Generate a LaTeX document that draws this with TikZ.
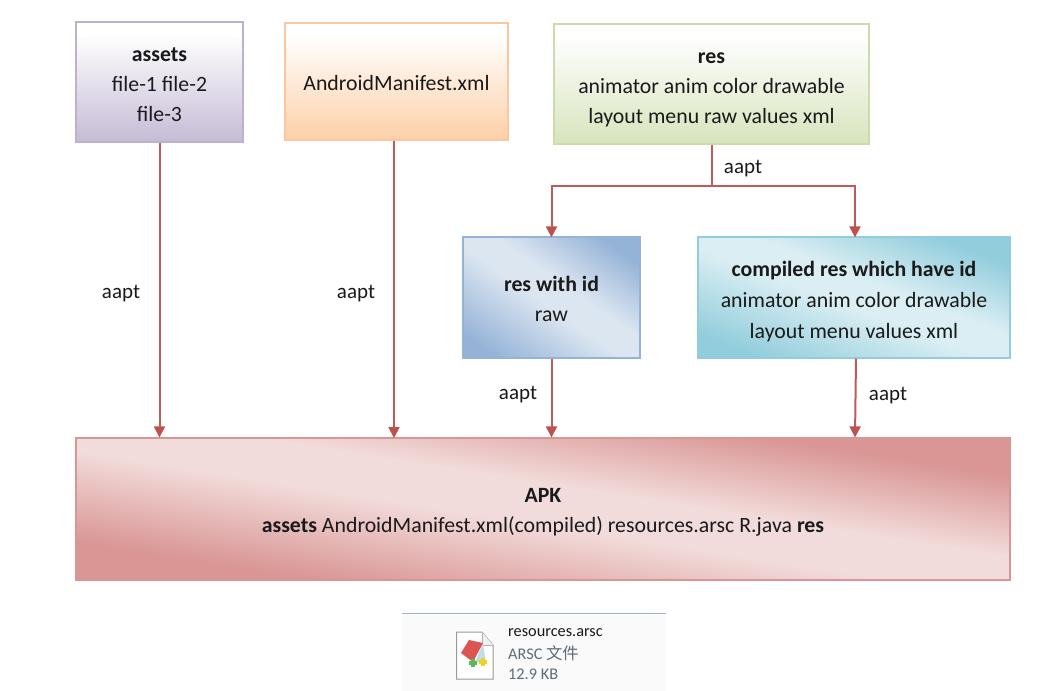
\documentclass[tikz,border=0pt]{standalone}
\usepackage{fontspec}
\setmainfont{Carlito}
\newfontfamily\cjkfont{Noto Sans CJK SC}
\usetikzlibrary{arrows.meta}
\definecolor{arrowred}{HTML}{BE5A58}
\definecolor{tipred}{HTML}{C0504D}
\definecolor{blueD}{HTML}{95B3D7}
\definecolor{blueL}{HTML}{DCE6F1}
\definecolor{aquaD}{HTML}{92CDDC}
\definecolor{aquaL}{HTML}{DAEEF3}
\definecolor{pinkD}{HTML}{D99694}
\definecolor{pinkL}{HTML}{F2DCDB}
\definecolor{lilacF}{HTML}{C5BBD6}
\definecolor{lilacB}{HTML}{BDB1D2}
\definecolor{peachF}{HTML}{FCD0A8}
\definecolor{peachB}{HTML}{FAC79F}
\definecolor{leafF}{HTML}{D7E4BD}
\definecolor{leafB}{HTML}{CBDBA9}
\definecolor{inkblack}{HTML}{1A1A1A}
\definecolor{grayink}{HTML}{5F6B78}
\definecolor{panelline}{HTML}{9DB4CC}
\definecolor{panelfill}{HTML}{FAFAFA}
\definecolor{bookred}{HTML}{DC5552}
\definecolor{bookblue}{HTML}{BFE0EA}
\definecolor{plusgreen}{HTML}{5CB85C}
\definecolor{plusyellow}{HTML}{F0D020}
\pgfdeclareverticalshading{blueshade}{100bp}{color(0bp)=(blueD); color(22bp)=(blueD); color(47bp)=(blueL); color(56bp)=(blueL); color(77bp)=(blueD); color(100bp)=(blueD)}
\pgfdeclareverticalshading{aquashade}{100bp}{color(0bp)=(aquaD); color(24bp)=(aquaD); color(47bp)=(aquaL); color(56bp)=(aquaL); color(75bp)=(aquaD); color(100bp)=(aquaD)}
\pgfdeclareverticalshading{pinkshade}{100bp}{color(0bp)=(pinkD); color(29bp)=(pinkD); color(47bp)=(pinkL); color(55bp)=(pinkL); color(71bp)=(pinkD); color(100bp)=(pinkD)}
\pgfdeclareverticalshading{lilacshade}{100bp}{color(0bp)=(lilacF); color(25bp)=(lilacF); color(70bp)=(white); color(100bp)=(white)}
\pgfdeclareverticalshading{peachshade}{100bp}{color(0bp)=(peachF); color(25bp)=(peachF); color(70bp)=(white); color(100bp)=(white)}
\pgfdeclareverticalshading{leafshade}{100bp}{color(0bp)=(leafF); color(25bp)=(leafF); color(70bp)=(white); color(100bp)=(white)}
\newcommand{\gap}[1]{\rule{0pt}{#1pt}}
\tikzset{
  box/.style={draw,shade,shading angle=0,line width=1.2pt,inner sep=0pt,align=center,
    font=\fontsize{21.8}{30}\selectfont,text=inkblack},
  lbl/.style={font=\fontsize{21}{22}\selectfont,text=inkblack,inner sep=0pt},
  flow/.style={draw=arrowred,line width=2pt,-{Triangle[length=11pt,width=11pt,color=tipred]}},
  flowplain/.style={draw=arrowred,line width=2pt},
  small/.style={anchor=west,inner sep=0pt,font=\fontsize{16.3}{18}\selectfont},
}
\begin{document}
\begin{tikzpicture}[x=1pt,y=-1pt]
\useasboundingbox (0,0) rectangle (1061,691);
\fill[white] (0,0) rectangle (1061,691);

% boxes
\node[box,draw=lilacB,shading=lilacshade,minimum width=167pt,minimum height=120pt] (assets) at (159.5,82) {\gap{20}\textbf{assets}\\file-1 file-2\\file-3};
\node[box,draw=peachB,shading=peachshade,minimum width=223pt,minimum height=117pt] (manifest) at (396.5,81.5) {\gap{18}AndroidManifest.xml};
\node[box,draw=leafB,shading=leafshade,minimum width=315pt,minimum height=120pt] (res) at (711.5,84) {\gap{23}\textbf{res}\\animator anim color drawable\\layout menu raw values xml};
\node[box,draw=blueD,shading=blueshade,shading angle=-35,minimum width=177pt,minimum height=121pt] (resid) at (551.5,297.5) {\gap{18}\textbf{res with id}\\raw};
\node[box,draw=aquaD,shading=aquashade,shading angle=-21,minimum width=312pt,minimum height=121pt,font=\fontsize{21.8}{31}\selectfont] (compiled) at (854,297.5) {\gap{24}\textbf{compiled res which have id}\\animator anim color drawable\\layout menu values xml};
\node[box,draw=pinkD,shading=pinkshade,shading angle=-9,minimum width=934pt,minimum height=142pt] (apk) at (543,509) {\gap{20}\textbf{APK}\\\textbf{assets} AndroidManifest.xml(compiled) resources.arsc R.java \textbf{res}};

% connectors
\coordinate (branch) at (res.south |- 0,186);
\draw[flowplain] (res.south) -- (branch);
\draw[flow] (branch) -| ([yshift=-1pt]resid.north);
\draw[flow] (branch) -| ([xshift=1pt,yshift=-1pt]compiled.north);
\draw[flow] (assets.south) -- (assets.south |- apk.north);
\draw[flow] (manifest.south -| 394,0) -- (394,438);
\draw[flow] (resid.south) -- (resid.south |- apk.north);
\draw[flow] ([xshift=2pt]compiled.south) -- ([xshift=1pt]compiled.south |- apk.north);

% labels
\node[lbl] (l1) at (121,293.5) {aapt};
\node[lbl] (l2) at (356,293.5) {aapt};
\node[lbl] (l3) at (743,168.5) {aapt};
\node[lbl] (l4) at (518,394.5) {aapt};
\node[lbl] (l5) at (888,395.5) {aapt};

% file panel
\fill[panelfill] (402,613) rectangle (666,691);
\draw[draw=panelline,line width=1pt] (402,613) -- (666,613);
\filldraw[draw=black!40,fill=white,line width=1pt] (456.5,632) -- (482,632) -- (493,645) -- (493,679) -- (456.5,679) -- cycle;
\filldraw[draw=black!30,fill=black!6,line width=.8pt] (482,632) -- (482,645) -- (493,645);
\fill[bookblue] (483,643) -- (486,663) -- (475,662) -- cycle;
\fill[bookred] (469,640) -- (483,643) -- (473,662) -- (461,653) -- cycle;
\fill[plusgreen] (471,658.5) rectangle (475,666.5);
\fill[plusgreen] (469,660.5) rectangle (477,664.5);
\fill[plusyellow] (481,657.5) rectangle (485,665.5);
\fill[plusyellow] (479,659.5) rectangle (487,663.5);
\node[small,text=inkblack] (fname) at (508,633) {resources.arsc};
\node[small,text=grayink] (ftype) at (508,653) {ARSC {\cjkfont 文件}};
\node[small,text=grayink] (fsize) at (508,674) {12.9 KB};
\end{tikzpicture}
\end{document}
